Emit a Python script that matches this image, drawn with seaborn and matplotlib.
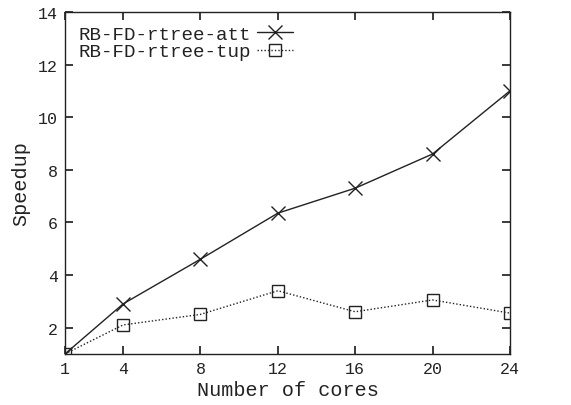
import matplotlib
matplotlib.use('Agg')
import matplotlib.pyplot as plt
import seaborn as sns
import pandas as pd

sns.set_theme(style="ticks")
plt.rcParams['font.family'] = ['Liberation Mono', 'DejaVu Sans Mono']

cores = [1, 4, 8, 12, 16, 20, 24]
speedup_att = [1.0, 2.9, 4.6, 6.35, 7.3, 8.6, 11.0]
speedup_tup = [1.0, 2.1, 2.5, 3.4, 2.6, 3.05, 2.55]

df = pd.DataFrame({'cores': cores, 'att': speedup_att, 'tup': speedup_tup})

fig = plt.figure(figsize=(5.71, 4.06), dpi=100)
ax = fig.add_axes([0.114, 0.126, 0.779, 0.842])

sns.lineplot(data=df, x='cores', y='att', ax=ax, color='#222222', linewidth=1,
             marker='x', markersize=10, markeredgewidth=1, markeredgecolor='#222222',
             label='RB-FD-rtree-att')
sns.lineplot(data=df, x='cores', y='tup', ax=ax, color='#222222', linewidth=1,
             linestyle=(0, (1, 1.5)), marker='s', markersize=9, markerfacecolor='none',
             markeredgewidth=1, markeredgecolor='#222222', label='RB-FD-rtree-tup')

ax.set_xlim(1, 24)
ax.set_ylim(1, 14)
ax.set_xticks(cores)
ax.set_yticks([2, 4, 6, 8, 10, 12, 14])
ax.tick_params(direction='in', top=True, right=True, labelsize=12, length=6,
               color='#222222', labelcolor='#222222', pad=5)
for s in ax.spines.values():
    s.set_color('#222222')
    s.set_linewidth(1)
ax.set_xlabel('Number of cores', fontsize=14.5, labelpad=3, color='#222222')
ax.set_ylabel('Speedup', fontsize=14.5, labelpad=6, color='#222222')

ax.legend(loc='upper left', frameon=False, markerfirst=False, fontsize=13.8,
          handlelength=1.9, labelspacing=0.0, borderaxespad=0.4, handletextpad=0.3,
          borderpad=0.3, labelcolor='#222222')

plt.savefig('out.png')
plt.close()
